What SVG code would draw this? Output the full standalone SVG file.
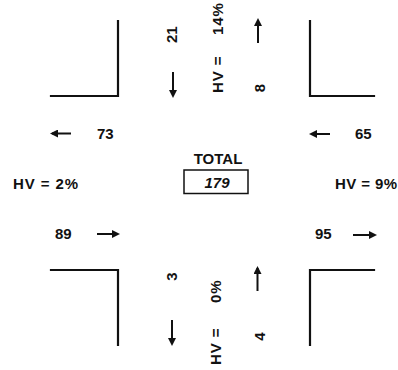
<svg xmlns="http://www.w3.org/2000/svg" width="398" height="370" viewBox="0 0 398 370">
  <style>
    .t { font-family: "Liberation Sans", Arial, sans-serif; font-weight: bold; font-size: 15px; fill: #111; }
    .hv { letter-spacing: 0.9px; }
    .kerb { fill: none; stroke: #111; stroke-width: 2.2; stroke-linecap: square; }
    .arr { fill: none; stroke: #111; stroke-width: 2; marker-end: url(#head); }
    .box { fill: none; stroke: #111; stroke-width: 1.5; }
  </style>
  <defs>
    <marker id="head" viewBox="0 0 8 8" refX="6" refY="4" markerWidth="8" markerHeight="8" markerUnits="userSpaceOnUse" orient="auto">
      <path d="M0,0 L8,4 L0,8 z" fill="#111"/>
    </marker>
  </defs>
  <rect width="398" height="370" fill="#fff"/>

  <!-- kerb corners of the intersection -->
  <g id="corner-nw"><polyline class="kerb" points="51,96 118,96 118,21"/></g>
  <g id="corner-ne"><polyline class="kerb" points="374,96 310,96 310,21"/></g>
  <g id="corner-sw"><polyline class="kerb" points="51,270 118,270 118,345"/></g>
  <g id="corner-se"><polyline class="kerb" points="374,270 310,270 310,345"/></g>

  <!-- movement arrows -->
  <g id="connectors">
    <line class="arr" x1="173" y1="72" x2="173" y2="96"/>
    <line class="arr" x1="258" y1="43" x2="258" y2="20"/>
    <line class="arr" x1="172" y1="320" x2="172" y2="344"/>
    <line class="arr" x1="257.5" y1="291" x2="257.5" y2="268"/>
    <line class="arr" x1="71" y1="133.5" x2="52" y2="133.5"/>
    <line class="arr" x1="330" y1="134" x2="311" y2="134"/>
    <line class="arr" x1="97" y1="234" x2="118" y2="234"/>
    <line class="arr" x1="353" y1="235" x2="375" y2="235"/>
  </g>

  <!-- north approach -->
  <g id="north">
    <text class="t" text-anchor="middle" transform="translate(176.5,34.7) rotate(-90)">21</text>
    <text class="t" text-anchor="middle" transform="translate(264.5,88) rotate(-90)">8</text>
    <text class="t hv" transform="translate(223,0) rotate(-90)"><tspan x="-93">HV =</tspan><tspan x="-35">14%</tspan></text>
  </g>

  <!-- south approach -->
  <g id="south">
    <text class="t" text-anchor="middle" transform="translate(176.5,276.7) rotate(-90)">3</text>
    <text class="t" text-anchor="middle" transform="translate(264.5,336.5) rotate(-90)">4</text>
    <text class="t hv" transform="translate(221,0) rotate(-90)"><tspan x="-365">HV =</tspan><tspan x="-303">0%</tspan></text>
  </g>

  <!-- west approach -->
  <g id="west">
    <text class="t" x="97" y="139">73</text>
    <text class="t hv" x="13" y="189">HV = 2%</text>
    <text class="t" x="55" y="239">89</text>
  </g>

  <!-- east approach -->
  <g id="east">
    <text class="t" x="355" y="139">65</text>
    <text class="t" x="335" y="189" letter-spacing="0.4">HV = 9%</text>
    <text class="t" x="315" y="239">95</text>
  </g>

  <!-- intersection total -->
  <g id="total">
    <text class="t" x="218" y="164" text-anchor="middle">TOTAL</text>
    <rect class="box" x="184" y="170" width="64" height="23.5"/>
    <text class="t" x="217" y="187.5" text-anchor="middle" font-style="italic">179</text>
  </g>
</svg>
